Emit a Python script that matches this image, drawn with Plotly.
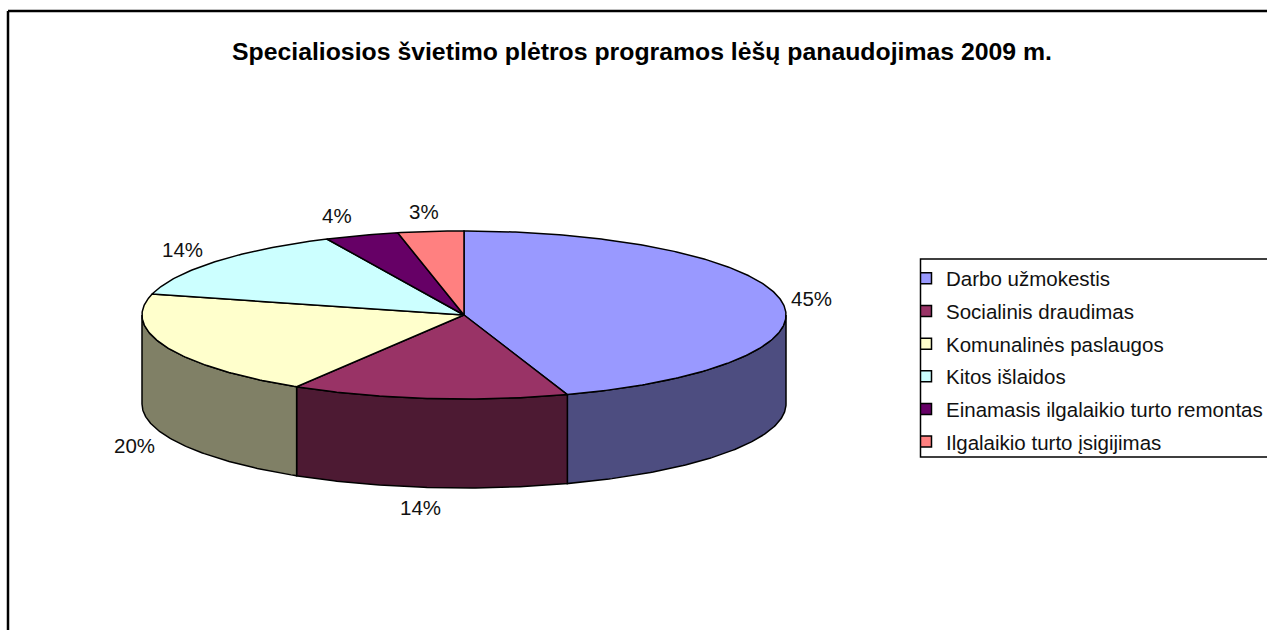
import math
import plotly.graph_objects as go

TITLE = "Specialiosios švietimo plėtros programos lėšų panaudojimas 2009 m."
categories = ["Darbo užmokestis", "Socialinis draudimas", "Komunalinės paslaugos",
              "Kitos išlaidos", "Einamasis ilgalaikio turto remontas", "Ilgalaikio turto įsigijimas"]
values = [44.8, 13.9, 20.3, 14.0, 3.7, 3.3]
labels = ["45%", "14%", "20%", "14%", "4%", "3%"]
top_colors = ["#9999FF", "#993366", "#FFFFCC", "#CCFFFF", "#660066", "#FF8080"]
side_colors = ["#4D4D80", "#4D1A33", "#808066", "#668080", "#330033", "#804040"]

# pie geometry (pixel space of the axes)
CX, CY, RX, RY, DEPTH = 464, 315, 322, 84, 89
# radial distance of each data label from the pie centre
label_rx = [352, 400, 356, 365, 399, 386]
label_ry = [102, 104, 111, 102, 105, 104]
FONT = "Liberation Sans, Arial, sans-serif"


def pt(theta, dy=0, rx=RX, ry=RY):
    return CX + rx * math.sin(theta), CY - ry * math.cos(theta) + dy


def arc(a, b, dy=0):
    n = max(2, int(abs(b - a) / 0.01))
    return [pt(a + (b - a) * i / n, dy) for i in range(n + 1)]


total = sum(values)
bounds = [0.0]
for v in values:
    bounds.append(bounds[-1] + v / total * 2 * math.pi)

fig = go.Figure()

# side walls: only the front half of the rim shows
for i in range(len(values)):
    a = max(bounds[i], math.pi / 2)
    b = min(bounds[i + 1], 3 * math.pi / 2)
    if b <= a:
        continue
    poly = arc(a, b) + arc(b, a, DEPTH)
    poly.append(poly[0])
    fig.add_trace(go.Scatter(x=[p[0] for p in poly], y=[p[1] for p in poly], mode="lines",
                             fill="toself", fillcolor=side_colors[i],
                             line=dict(color="black", width=1.5),
                             showlegend=False, hoverinfo="skip"))

# top faces
for i in range(len(values)):
    poly = [(CX, CY)] + arc(bounds[i], bounds[i + 1]) + [(CX, CY)]
    fig.add_trace(go.Scatter(x=[p[0] for p in poly], y=[p[1] for p in poly], mode="lines",
                             fill="toself", fillcolor=top_colors[i],
                             line=dict(color="black", width=1.5),
                             showlegend=False, hoverinfo="skip"))

# legend entries
for i, c in enumerate(categories):
    fig.add_trace(go.Scatter(x=[None], y=[None], mode="markers", name=c, legendgroup=c,
                             marker=dict(symbol="square", size=11, color=top_colors[i],
                                         line=dict(color="black", width=1.5))))

# data labels
for i, lab in enumerate(labels):
    mid = (bounds[i] + bounds[i + 1]) / 2
    front = math.pi / 2 < mid < 3 * math.pi / 2
    x, y = pt(mid, DEPTH if front else 0, label_rx[i], label_ry[i])
    fig.add_annotation(x=x, y=y, text=lab, showarrow=False,
                       font=dict(family=FONT, size=20.5, color="#111111"))

fig.add_annotation(x=642, y=51, text=f"<b>{TITLE}</b>", showarrow=False,
                   font=dict(family=FONT, size=24.8, color="black"))

# chart frame (open at right and bottom where the picture crops it)
fig.add_shape(type="line", x0=8, x1=8, y0=11, y1=630, line=dict(color="black", width=2.5))
fig.add_shape(type="line", x0=8, x1=1267, y0=11, y1=11, line=dict(color="black", width=2.5))
# legend box, running off the right edge of the picture
fig.add_shape(type="rect", x0=920.5, x1=1300, y0=259, y1=457, line=dict(color="black", width=1.5))

fig.update_layout(
    width=1267, height=630, margin=dict(l=0, r=0, t=0, b=0, autoexpand=False),
    paper_bgcolor="white", plot_bgcolor="white",
    xaxis=dict(range=[0, 1267], visible=False, fixedrange=True),
    yaxis=dict(range=[630, 0], visible=False, fixedrange=True),
    legend=dict(x=921 / 1267, xanchor="left", y=1 - 258.5 / 630, yanchor="top",
                bgcolor="rgba(0,0,0,0)", borderwidth=0,
                font=dict(family=FONT, size=20.5, color="#111111"),
                indentation=-15, tracegroupgap=3),
)
fig.write_html("out.html", config={"displayModeBar": False},
               post_script="document.body.style.margin='0';document.body.style.overflow='hidden';")
